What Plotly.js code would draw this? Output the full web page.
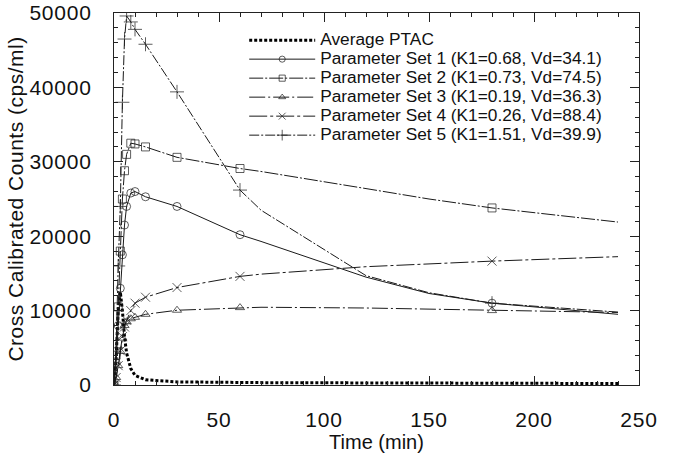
<!DOCTYPE html>
<html>
<head>
<meta charset="utf-8">
<script src="https://cdn.plot.ly/plotly-3.0.1.min.js"></script>
<style>
html,body{margin:0;padding:0;background:#fff;}
.xtick text,.ytick text{letter-spacing:0.8px;}
.g-ytitle text{letter-spacing:0.5px;}
</style>
</head>
<body>
<div id="chart" style="width:673px;height:454px;"></div>
<script>
// Time points (min)
const time = [0, 1, 2, 3, 4, 5, 6, 8, 10, 15, 30, 60, 70, 120, 150, 180, 240];
// Series values (cps/ml)
const ptac = [0, 3500, 10000, 12500, 10000, 6500, 4300, 2200, 1300, 700, 420, 330, 320, 280, 260, 240, 200];
const set1 = [0, 3000, 8000, 13000, 17500, 21500, 24000, 25800, 26000, 25300, 24000, 20200, 19300, 14500, 12300, 11000, 9500];
const set2 = [0, 4000, 10500, 18000, 25000, 28800, 31000, 32500, 32400, 32000, 30600, 29100, 28700, 26400, 25000, 23800, 21900];
const set3 = [0, 1000, 2600, 4500, 6300, 8000, 8500, 8900, 9100, 9500, 10050, 10400, 10450, 10350, 10200, 10000, 9750];
const set4 = [0, 1000, 2600, 4600, 6500, 7800, 8700, 10000, 11000, 11800, 13100, 14600, 14900, 15900, 16300, 16650, 17250];
const set5 = [0, 5000, 16000, 24000, 38000, 46500, 49600, 48800, 47800, 45800, 39400, 26200, 23500, 14700, 12400, 11000, 9800];
// which samples carry a marker
const markerOn = [1, 1, 1, 1, 1, 1, 1, 1, 1, 1, 1, 1, 0, 0, 0, 1, 0];

const names = [
  'Average PTAC',
  'Parameter Set 1 (K1=0.68, Vd=34.1)',
  'Parameter Set 2 (K1=0.73, Vd=74.5)',
  'Parameter Set 3 (K1=0.19, Vd=36.3)',
  'Parameter Set 4 (K1=0.26, Vd=88.4)',
  'Parameter Set 5 (K1=1.51, Vd=39.9)'
];

const ink = '#1a1a1a';
const FONT = 'Liberation Sans, Arial, sans-serif';
const LEG_SIZE = 17.3;

function legName(n) { return '<span style="font-size:' + LEG_SIZE + 'px">' + n + '</span>'; }

function setTrace(y, name, symbol, dash, msize) {
  return {
    x: time, y: y, type: 'scatter', mode: 'lines+markers',
    name: legName(name),
    line: {color: ink, width: 1, dash: dash},
    marker: {
      symbol: symbol,
      size: markerOn.map(m => m ? msize : 0),
      color: ink,
      line: {color: ink, width: 1}
    }
  };
}

const data = [
  {x: time, y: ptac, type: 'scatter', mode: 'lines',
   name: legName(names[0]),
   line: {color: '#000', width: 3, dash: '3px,2px'}},
  setTrace(set1, names[1], 'circle-open', 'solid', 8),
  setTrace(set2, names[2], 'square-open', '14px,2px,2px,2px', 8),
  setTrace(set3, names[3], 'triangle-up-open', '16px,3px,2px,3px', 8),
  setTrace(set4, names[4], 'x-thin', '18px,3px,3px,3px', 9),
  setTrace(set5, names[5], 'cross-thin', '10px,2px,2px,2px', 10)
];

const axisCommon = {
  showline: true, linecolor: '#222', linewidth: 1, mirror: 'ticks',
  ticks: 'inside', ticklen: 9, tickwidth: 1, tickcolor: '#222',
  showgrid: false, zeroline: false,
  tickformat: 'd',
  tickfont: {family: FONT, size: 21, color: '#111'}
};

const layout = {
  width: 673, height: 454,
  margin: {l: 114, r: 34, t: 13, b: 69},
  paper_bgcolor: '#fff', plot_bgcolor: '#fff',
  showlegend: true,
  legend: {
    x: 0.248, y: 0.966, xanchor: 'left', yanchor: 'top',
    bgcolor: 'rgba(0,0,0,0)', borderwidth: 0,
    font: {family: FONT, size: 11.5, color: '#111'},
    itemwidth: 66,
    tracegroupgap: 0
  },
  xaxis: Object.assign({}, axisCommon, {
    range: [0, 250], tick0: 0, dtick: 50,
    minor: {dtick: 10, ticks: 'inside', ticklen: 4, tickcolor: '#222'},
    ticklabelstandoff: 16,
    title: {text: 'Time (min)', font: {family: FONT, size: 20, color: '#111'}, standoff: 2}
  }),
  yaxis: Object.assign({}, axisCommon, {
    range: [0, 50000], tick0: 0, dtick: 10000,
    minor: {dtick: 2000, ticks: 'inside', ticklen: 4, tickcolor: '#222'},
    ticklabelstandoff: 17,
    title: {text: 'Cross Calibrated Counts (cps/ml)', font: {family: FONT, size: 21, color: '#111'}, standoff: 0}
  })
};

Plotly.newPlot('chart', data, layout, {displayModeBar: false, staticPlot: true});
</script>
</body>
</html>
